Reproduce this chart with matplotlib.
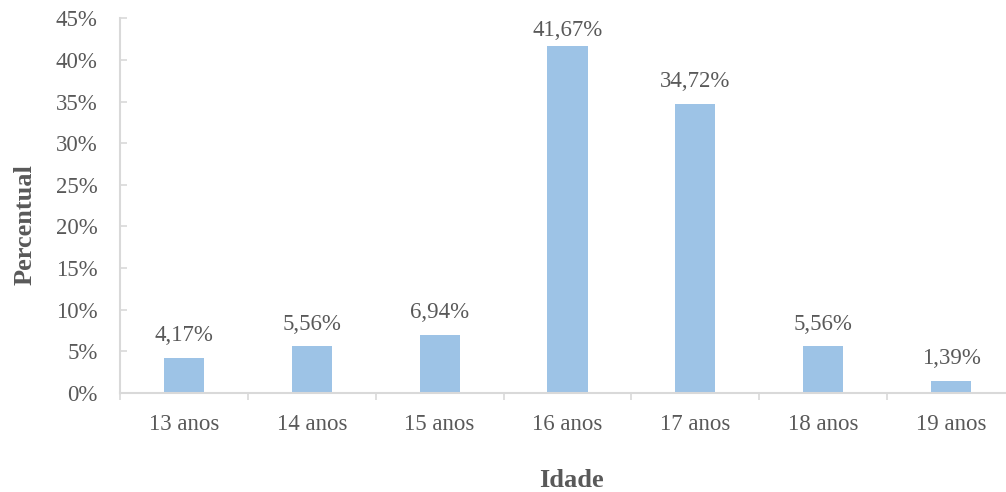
import numpy as np
import matplotlib.pyplot as plt
from matplotlib.ticker import FuncFormatter, FixedLocator

idades = ["13 anos", "14 anos", "15 anos", "16 anos", "17 anos", "18 anos", "19 anos"]
percentual = [4.17, 5.56, 6.94, 41.67, 34.72, 5.56, 1.39]

plt.rcParams['font.family'] = ['Liberation Serif', 'DejaVu Serif']
cor_texto = '#595959'
cor_eixo = '#D9D9D9'

fig = plt.figure(figsize=(10.06, 4.92), dpi=100)
ax = fig.add_axes([0.1193, 0.2018, 0.8897, 0.761])

x = np.arange(len(idades))
ax.bar(x, percentual, width=0.314, color='#9DC3E6', zorder=2)

rotulos = []
for xi, v in zip(x, percentual):
    t = ax.annotate(f"{v:.2f}".replace('.', ',') + '%', (xi, v), xytext=(0, 12),
                    textcoords='offset points', ha='center', va='baseline',
                    fontsize=16.5, color=cor_texto, annotation_clip=False)
    rotulos.append(t)

ax.set_xlim(-0.5, len(idades) - 0.5)
ax.set_ylim(0, 45)
ax.set_yticks(np.arange(0, 46, 5))
ax.yaxis.set_major_formatter(FuncFormatter(lambda v, p: f"{v:.0f}%"))

ax.xaxis.set_major_locator(FixedLocator(np.arange(-0.5, len(idades), 1.0)))
ax.xaxis.set_major_formatter(FuncFormatter(lambda v, p: ""))
ax.xaxis.set_minor_locator(FixedLocator(x))
ax.set_xticklabels(idades, minor=True)

ax.tick_params(axis='y', direction='in', length=5, width=1.2, color=cor_eixo,
               labelsize=16.5, labelcolor=cor_texto, pad=16)
ax.tick_params(axis='x', which='major', direction='out', length=5, width=1.2,
               color=cor_eixo)
ax.tick_params(axis='x', which='minor', length=0, labelsize=16.5,
               labelcolor=cor_texto, pad=15)

for s in ['top', 'right']:
    ax.spines[s].set_visible(False)
for s in ['left', 'bottom']:
    ax.spines[s].set_color(cor_eixo)
    ax.spines[s].set_linewidth(1.5)

fig.text(0.025, 0.543, "Percentual", rotation=90, ha='center', va='center',
         fontsize=19, fontweight='bold', color=cor_texto)
fig.text(0.568, 0.0102, "Idade", ha='center', va='baseline',
         fontsize=19, fontweight='bold', color=cor_texto)

# rótulos que saem da área do gráfico descem (como no Excel)
fig.canvas.draw()
r = fig.canvas.get_renderer()
limite = fig.bbox.height - 20
for t in rotulos:
    bb = t.get_window_extent(r)
    if bb.y1 > limite:
        dx, dy = t.xyann
        t.xyann = (dx, dy - (bb.y1 - limite) * 72 / fig.dpi)

fig.savefig('out.png', dpi=100)
